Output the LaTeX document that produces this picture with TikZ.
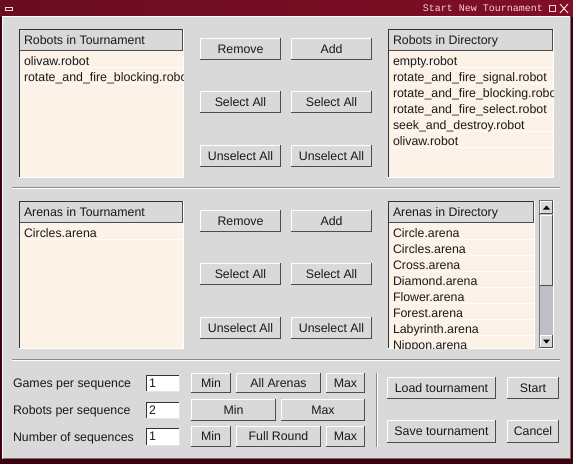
\documentclass[tikz,border=0pt]{standalone}
\usepackage{fontspec}
\setmainfont{Liberation Sans}
\newfontfamily\uimono{Liberation Mono}
\definecolor{face}{RGB}{217,217,217}
\definecolor{cream}{RGB}{253,242,232}
\definecolor{rowln}{RGB}{255,252,249}
\definecolor{shade}{RGB}{90,90,90}
\definecolor{trough}{RGB}{190,190,196}
\definecolor{frameA}{RGB}{105,12,32}
\definecolor{frameM}{RGB}{72,0,16}
\definecolor{frameB}{RGB}{128,14,38}
\definecolor{frameD}{RGB}{60,0,14}
\definecolor{titletext}{RGB}{245,210,218}
\tikzset{
  ui/.style={font=\fontsize{12.35}{14}\selectfont, text=black!90, inner sep=0pt, outer sep=0pt, text height=8.8pt, text depth=0pt},
  btn/.style={ui, rectangle, fill=face, anchor=center},
  item/.style={ui, anchor=west},
  boxn/.style={rectangle, inner sep=0pt, outer sep=0pt, anchor=center},
  hi/.style={white, line width=1pt},
  lo/.style={black!70, line width=1pt},
  sunk/.style={black!80, line width=1pt},
  rowsep/.style={rowln, line width=1pt},
}
% button: name, x1, y1, x2, y2, text
\newcommand\uibtn[6]{%
  \node[btn, minimum width={#4-#2}, minimum height={#5-#3}] (#1) at ({(#2+#4)/2},{(#3+#5)/2}) {#6};
  \draw[hi] ([xshift=.5pt]#1.south west) -- ([xshift=.5pt,yshift=-.5pt]#1.north west) -- ([yshift=-.5pt]#1.north east);
  \draw[lo] ([yshift=.5pt]#1.south west) -- ([xshift=-.5pt,yshift=.5pt]#1.south east) -- ([xshift=-.5pt]#1.north east);
}
% list: name, x1, y1, x2, y2, header bottom, title, number of items
\newcommand\uilist[8]{%
  \node[boxn, fill=cream, minimum width={#4-#2}, minimum height={#5-#3}] (#1) at ({(#2+#4)/2},{(#3+#5)/2}) {};
  \foreach \k in {1,...,#8} {
    \pgfmathsetmacro\yy{#6+0.5+16*\k}
    \pgfmathparse{\yy<#5-1 ? 1 : 0}
    \ifnum\pgfmathresult=1 \draw[rowsep] (#2+1,\yy) -- (#4-1,\yy); \fi
  }
  \draw[sunk] ([xshift=.5pt]#1.south west) -- ([xshift=.5pt,yshift=-.5pt]#1.north west) -- ([yshift=-.5pt]#1.north east);
  \draw[hi] ([yshift=.5pt]#1.south west) -- ([xshift=-.5pt,yshift=.5pt]#1.south east) -- ([xshift=-.5pt]#1.north east);
  \node[boxn, fill=face, minimum width={#4-#2-2}, minimum height={#6-#3-1}, anchor=north west] (#1-h) at ([xshift=1pt,yshift=-1pt]#1.north west) {};
  \draw[lo, line width=1.5pt] ([yshift=.75pt]#1-h.south west) -- ([xshift=-.75pt,yshift=.75pt]#1-h.south east) -- ([xshift=-.75pt]#1-h.north east);
  \node[item] (#1-t) at ([xshift=4pt,yshift=.5pt]#1-h.west) {#7};
}
% entry: name, x1, y1, x2, y2, text
\newcommand\uientry[6]{%
  \node[boxn, fill=white, minimum width={#4-#2}, minimum height={#5-#3}] (#1) at ({(#2+#4)/2},{(#3+#5)/2}) {};
  \draw[sunk] ([xshift=.5pt]#1.south west) -- ([xshift=.5pt,yshift=-.5pt]#1.north west) -- ([yshift=-.5pt]#1.north east);
  \draw[face!70!white] ([yshift=.5pt]#1.south west) -- ([xshift=-.5pt,yshift=.5pt]#1.south east) -- ([xshift=-.5pt]#1.north east);
  \node[item] (#1-t) at ([xshift=3pt,yshift=.5pt]#1.west) {#6};
}
\begin{document}
\begin{tikzpicture}[x=1pt,y=-1pt]
\useasboundingbox (0,0) rectangle (573,464);
% window
\fill[face] (0,0) rectangle (573,464);
\fill[frameD] (0,459) rectangle (573,464);
\fill[frameD] (0,0) rectangle (2,464);
\fill[frameD] (571,0) rectangle (573,464);
\shade[left color=frameA, middle color=frameM, right color=frameB] (0,0) rectangle (573,16);
\draw[white, line width=1pt] (2.5,458) -- (2.5,16.5) -- (570,16.5);
\draw[black!55, line width=1pt] (3,458.5) -- (570.5,458.5) -- (570.5,17);
% title bar
\draw[titletext, line width=1pt] (5,7.5) rectangle (12,10.5);
\node[inner sep=0pt, anchor=east, text=titletext, font=\uimono\fontsize{10}{12}\selectfont, text height=7pt, text depth=0pt] (title) at (543,8) {Start New Tournament};
\node[draw=titletext, line width=1pt, inner sep=0pt, minimum size=6pt] (maxicon) at (552,8.5) {};
\draw[titletext, line width=1pt] (560,4) -- (568,13) (560,13) -- (568,4);
% separators
\draw[black!45, line width=1pt] (12,187.5) -- (560,187.5);
\draw[white, line width=1pt] (12,188.5) -- (560,188.5);
\draw[black!45, line width=1pt] (12,359.5) -- (560,359.5);
\draw[white, line width=1pt] (12,360.5) -- (560,360.5);
\draw[black!45, line width=1pt] (376.5,373) -- (376.5,447);
\draw[white, line width=1pt] (377.5,373) -- (377.5,447);

% ---- robots section
\uilist{rt}{19}{29}{184}{178}{51}{Robots in Tournament}{2}
\begin{scope}
\clip (20,52) rectangle (183,177);
\node[item] (rt1) at (24,61) {olivaw.robot};
\node[item] (rt2) at (24,77) {rotate\_and\_fire\_blocking.robot};
\end{scope}
\uilist{rd}{388}{29}{554}{178}{51}{Robots in Directory}{6}
\begin{scope}
\clip (389,52) rectangle (553,177);
\node[item] (rd1) at (393,61) {empty.robot};
\node[item] (rd2) at (393,77) {rotate\_and\_fire\_signal.robot};
\node[item] (rd3) at (393,93) {rotate\_and\_fire\_blocking.robot};
\node[item] (rd4) at (393,109) {rotate\_and\_fire\_select.robot};
\node[item] (rd5) at (393,125) {seek\_and\_destroy.robot};
\node[item] (rd6) at (393,141) {olivaw.robot};
\end{scope}
\uibtn{rrem}{200}{38}{281}{60}{Remove}
\uibtn{radd}{291}{38}{372}{60}{Add}
\uibtn{rsel1}{200}{91}{281}{113}{Select All}
\uibtn{rsel2}{291}{91}{372}{113}{Select All}
\uibtn{runs1}{200}{145}{281}{167}{Unselect All}
\uibtn{runs2}{291}{145}{372}{167}{Unselect All}

% ---- arenas section
\uilist{at}{19}{201}{184}{349}{223}{Arenas in Tournament}{1}
\begin{scope}
\clip (20,224) rectangle (183,348);
\node[item] (at1) at (24,233) {Circles.arena};
\end{scope}
\uilist{ad}{388}{201}{535}{349}{223}{Arenas in Directory}{8}
\begin{scope}
\clip (389,224) rectangle (534,348);
\node[item] (ad1) at (393,233) {Circle.arena};
\node[item] (ad2) at (393,249) {Circles.arena};
\node[item] (ad3) at (393,265) {Cross.arena};
\node[item] (ad4) at (393,281) {Diamond.arena};
\node[item] (ad5) at (393,297) {Flower.arena};
\node[item] (ad6) at (393,313) {Forest.arena};
\node[item] (ad7) at (393,329) {Labyrinth.arena};
\node[item] (ad8) at (393,345) {Nippon.arena};
\end{scope}
% scrollbar
\node[boxn, fill=trough, minimum width=15pt, minimum height=149pt] (sb) at (546.5,274.5) {};
\draw[sunk, black!55] ([xshift=.5pt]sb.south west) -- ([xshift=.5pt,yshift=-.5pt]sb.north west) -- ([yshift=-.5pt]sb.north east);
\draw[hi] ([yshift=.5pt]sb.south west) -- ([xshift=-.5pt,yshift=.5pt]sb.south east) -- ([xshift=-.5pt]sb.north east);
\uibtn{sbup}{540}{201}{553}{214}{}
\uibtn{sbthumb}{540}{215}{553}{286}{}
\uibtn{sbdown}{540}{335}{553}{348}{}
\fill[black] ([yshift=2pt]sbup.center) -- ([xshift=-3.5pt,yshift=-2pt]sbup.center) -- ([xshift=3.5pt,yshift=-2pt]sbup.center) -- cycle;
\fill[black] ([yshift=-2pt]sbdown.center) -- ([xshift=-3.5pt,yshift=2pt]sbdown.center) -- ([xshift=3.5pt,yshift=2pt]sbdown.center) -- cycle;

\uibtn{arem}{200}{210}{281}{232}{Remove}
\uibtn{aadd}{291}{210}{372}{232}{Add}
\uibtn{asel1}{200}{263}{281}{285}{Select All}
\uibtn{asel2}{291}{263}{372}{285}{Select All}
\uibtn{auns1}{200}{317}{281}{339}{Unselect All}
\uibtn{auns2}{291}{317}{372}{339}{Unselect All}

% ---- bottom section
\node[item] (lg) at (13,383) {Games per sequence};
\node[item] (lr) at (13,410) {Robots per sequence};
\node[item] (ln) at (13,437) {Number of sequences};
\uientry{eg}{146}{375}{180}{392}{1}
\uientry{er}{146}{402}{180}{419}{2}
\uientry{en}{146}{428}{180}{446}{1}
\uibtn{gmin}{191}{373}{231}{393}{Min}
\uibtn{gall}{236}{373}{321}{393}{All Arenas}
\uibtn{gmax}{326}{373}{365}{393}{Max}
\uibtn{rmin}{191}{399}{276}{421}{Min}
\uibtn{rmax}{281}{399}{365}{421}{Max}
\uibtn{nmin}{191}{426}{231}{447}{Min}
\uibtn{nfull}{236}{426}{321}{447}{Full Round}
\uibtn{nmax}{326}{426}{365}{447}{Max}
\uibtn{bload}{387}{377}{496}{399}{Load tournament}
\uibtn{bstart}{507}{377}{559}{399}{Start}
\uibtn{bsave}{387}{420}{496}{443}{Save tournament}
\uibtn{bcancel}{507}{420}{559}{443}{Cancel}
\end{tikzpicture}
\end{document}
